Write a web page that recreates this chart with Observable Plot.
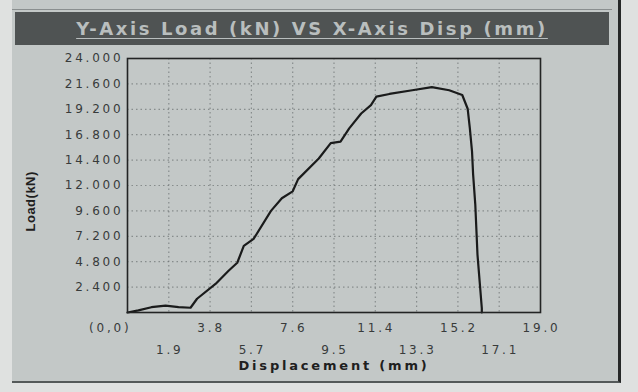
<!DOCTYPE html>
<html>
<head>
<meta charset="utf-8">
<script src="https://cdn.jsdelivr.net/npm/d3@7"></script>
<script src="https://cdn.jsdelivr.net/npm/@observablehq/plot@0.6"></script>
<style>
  html, body { margin: 0; padding: 0; background: #dfe1e0; }
  #page { position: relative; width: 638px; height: 392px; overflow: hidden; }
  #paper { position: absolute; left: 12px; top: 0; width: 606px; height: 381px;
           background: #c3c8c7; border-right: 3px solid #262828; border-bottom: 2px solid #555a5a; }
  #topline { position: absolute; left: 12px; top: 9px; width: 600px; height: 1px; background: #8a8f8f; }
  #title { position: absolute; left: 15px; top: 12px; width: 594px; height: 33px; background: #4f5353;
           color: #b9bebe; font-family: "DejaVu Sans", sans-serif; font-weight: bold; font-size: 18px;
           letter-spacing: 2.6px; text-align: center; line-height: 33px; text-decoration: underline;
           text-underline-offset: 3px; white-space: nowrap; }
  #chart { position: absolute; left: 0; top: 45px; }
  #chart text { letter-spacing: 2.8px; }
  #chart text.ylab { letter-spacing: 0.5px; }
</style>
</head>
<body>
<div id="page">
  <div id="paper"></div>
  <div id="topline"></div>
  <div id="title">Y-Axis Load (kN) VS X-Axis Disp (mm)</div>
  <div id="chart"></div>
</div>
<script>
// Curve: displacement (mm) and load (kN)
const dispMM = [0, 0.5, 1.1, 1.75, 2.35, 2.9, 3.2, 4.05, 4.65, 5.05, 5.35, 5.8, 6.6, 7.1, 7.6, 7.85,
  8.8, 9.35, 9.8, 10.2, 10.75, 11.2, 11.45, 12.05, 13.1, 14.0, 14.8, 15.4, 15.65, 15.75, 15.85,
  15.9, 16.0, 16.1, 16.3, 16.3];
const loadKN = [0, 0.2, 0.5, 0.65, 0.5, 0.45, 1.3, 2.7, 3.95, 4.7, 6.3, 6.95, 9.6, 10.8, 11.45, 12.6,
  14.55, 16.0, 16.15, 17.4, 18.8, 19.6, 20.4, 20.65, 21.0, 21.3, 21.0, 20.55, 19.25, 17.4, 15.2,
  13.05, 10.2, 5.5, 0.4, 0];

const xTicks = [0, 1.9, 3.8, 5.7, 7.6, 9.5, 11.4, 13.3, 15.2, 17.1, 19.0];
const xTickLabels = ["(0,0)", "1.9", "3.8", "5.7", "7.6", "9.5", "11.4", "13.3", "15.2", "17.1", "19.0"];
const yTicks = [2.4, 4.8, 7.2, 9.6, 12.0, 14.4, 16.8, 19.2, 21.6, 24.0];
const yTickLabels = ["2.400", "4.800", "7.200", "9.600", "12.000", "14.400", "16.800", "19.200", "21.600", "24.000"];
const xLabel = "Displacement (mm)";
const yLabel = "Load(kN)";

const curve = dispMM.map((d, i) => ({disp: d, load: loadKN[i]}));
const xt = xTicks.map((v, i) => ({v, label: xTickLabels[i], row: i % 2}));
const yt = yTicks.map((v, i) => ({v, label: yTickLabels[i]}));

const font = "DejaVu Sans, sans-serif";
const tickColor = "#383b3b";

const chart = Plot.plot({
  width: 638,
  height: 347,
  marginLeft: 127,
  marginRight: 98,
  marginTop: 13,
  marginBottom: 80,
  x: {domain: [0, 19], axis: null},
  y: {domain: [0, 24], axis: null},
  style: {background: "transparent", fontFamily: font, overflow: "visible"},
  marks: [
    Plot.gridX(xTicks.slice(1, -1), {stroke: "#6e7373", strokeOpacity: 0.7, strokeDasharray: "1.5,3", strokeWidth: 1.2}),
    Plot.gridY(yTicks.slice(0, -1), {stroke: "#6e7373", strokeOpacity: 0.7, strokeDasharray: "1.5,3", strokeWidth: 1.2}),
    Plot.line(curve, {x: "disp", y: "load", stroke: "#1a1b1b", strokeWidth: 2.2, strokeLinejoin: "round"}),
    Plot.frame({stroke: "#222424", strokeWidth: 1.6}),
    Plot.text(yt, {x: 0, y: "v", text: "label", textAnchor: "end", dx: -4, fontSize: 12, fill: tickColor}),
    Plot.text(xt.filter(d => d.row === 0 && d.v > 0), {x: "v", y: 0, text: "label", dy: 16, dx: 1, fontSize: 12, fill: tickColor}),
    Plot.text(xt.filter(d => d.v === 0), {x: "v", y: 0, text: "label", textAnchor: "end", dy: 16, dx: 4, fontSize: 12, fill: tickColor}),
    Plot.text(xt.filter(d => d.row === 1), {x: "v", y: 0, text: "label", dy: 38, dx: 1, fontSize: 12, fill: tickColor}),
    Plot.text([xLabel], {frameAnchor: "bottom", dy: 57, fontSize: 13, fontWeight: "bold", fill: "#1e2020"}),
    Plot.text([yLabel], {frameAnchor: "left", dx: -97, dy: 46, rotate: -90, fontSize: 13, fontWeight: "bold",
      fontFamily: "Liberation Sans Narrow, Liberation Sans, sans-serif", fill: "#1e2020"})
  ]
});
d3.select(chart).selectAll("text").filter(function() { return this.textContent === yLabel; }).classed("ylab", true);
document.getElementById("chart").appendChild(chart);
</script>
</body>
</html>
